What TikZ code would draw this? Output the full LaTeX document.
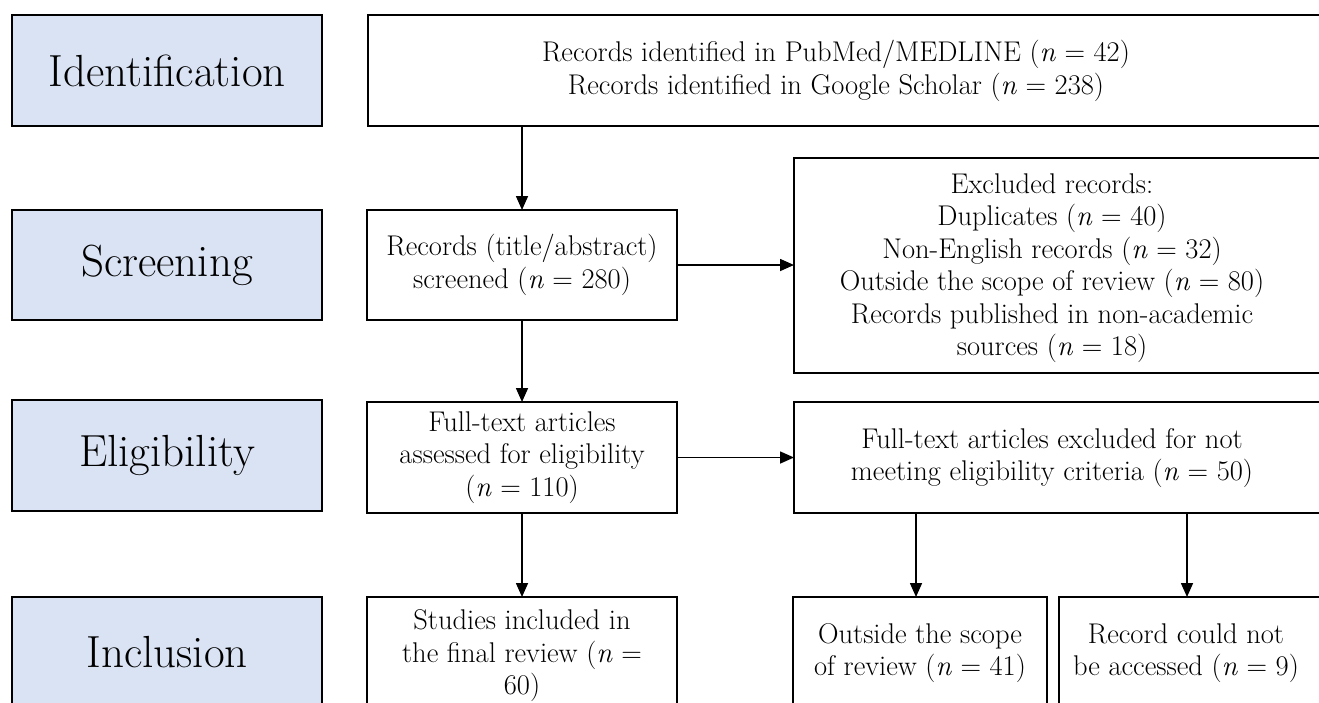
\documentclass[tikz,border=0pt]{standalone}
\usetikzlibrary{arrows.meta}
\definecolor{phasefill}{HTML}{DAE3F3}
\begin{document}
\begin{tikzpicture}[x=1pt,y=-1pt,
  box/.style={draw=black,line width=1.6pt,rectangle,anchor=north west,inner sep=0pt,outer sep=0pt},
  phase/.style={box,fill=phasefill,minimum width=310pt},
  big/.style={font=\fontsize{45}{50}\selectfont},
  txt/.style={align=center,inner sep=0pt,font=\fontsize{28.5}{32.5}\selectfont},
  arr/.style={line width=1.6pt,-{Triangle[length=14pt,width=12pt]}}]
\useasboundingbox (0,0) rectangle (1319,702);
\clip (0,0) rectangle (1319,702);
% phase boxes
\node[phase,minimum height=111pt] (idb) at (12,15) {};
\node[big] (idt) at (idb.center) {Identification};
\node[phase,minimum height=110pt] (scb) at (12,210) {};
\node[big] (sct) at (scb.center) {Screening};
\node[phase,minimum height=111pt] (elb) at (12,400) {};
\node[big] (elt) at (elb.center) {Eligibility};
\node[phase,minimum height=110pt] (inb) at (12,597) {};
\node[big] (int) at (inb.center) {Inclusion};
% flow boxes
\node[box,minimum width=957pt,minimum height=111pt] (rec) at (368,15) {};
\node[txt] (rect) at (836,71) {Records identified in PubMed/MEDLINE (\textit{n} = 42)\\Records identified in Google Scholar (\textit{n} = 238)};
\node[box,minimum width=310pt,minimum height=110pt] (scr) at (367,210) {};
\node[txt] (scrt) at (scr.center) {Records (title/abstract)\\screened (\textit{n} = 280)};
\node[box,minimum width=531pt,minimum height=215pt] (exc) at (794,158) {};
\node[txt] (exct) at (1052,268) {Excluded records:\\Duplicates (\textit{n} = 40)\\Non-English records (\textit{n} = 32)\\Outside the scope of review (\textit{n} = 80)\\Records published in non-academic\\sources (\textit{n} = 18)};
\node[box,minimum width=310pt,minimum height=111pt] (eli) at (367,402) {};
\node[txt] (elit) at (eli.center) {Full-text articles\\assessed for eligibility\\(\textit{n} = 110)};
\node[box,minimum width=531pt,minimum height=111pt] (fte) at (794,402) {};
\node[txt] (ftet) at (1052,458) {Full-text articles excluded for not\\meeting eligibility criteria (\textit{n} = 50)};
\node[box,minimum width=310pt,minimum height=110pt] (stu) at (367,597) {};
\node[txt] (stut) at (522,656) {Studies included in\\the final review (\textit{n} =\\60)};
\node[box,minimum width=254pt,minimum height=110pt] (out) at (793,597) {};
\node[txt] (outt) at (920,653) {Outside the scope\\of review (\textit{n} = 41)};
\node[box,minimum width=266pt,minimum height=110pt] (rcb) at (1059,597) {};
\node[txt] (rcbt) at (1186,653) {Record could not\\be accessed (\textit{n} = 9)};
% connectors
\draw[arr] (scr.north |- rec.south) -- (scr.north);
\draw[arr] (scr.east) -- (exc.west |- scr.east);
\draw[arr] (scr.south) -- (eli.north);
\draw[arr] (eli.east) -- (fte.west |- eli.east);
\draw[arr] (eli.south) -- (stu.north);
\coordinate (a1) at ([xshift=-4pt]outt.north |- fte.south);
\coordinate (a2) at ([xshift=1pt]rcbt.north |- fte.south);
\draw[arr] (a1) -- (a1 |- out.north);
\draw[arr] (a2) -- (a2 |- rcb.north);
\end{tikzpicture}
\end{document}
